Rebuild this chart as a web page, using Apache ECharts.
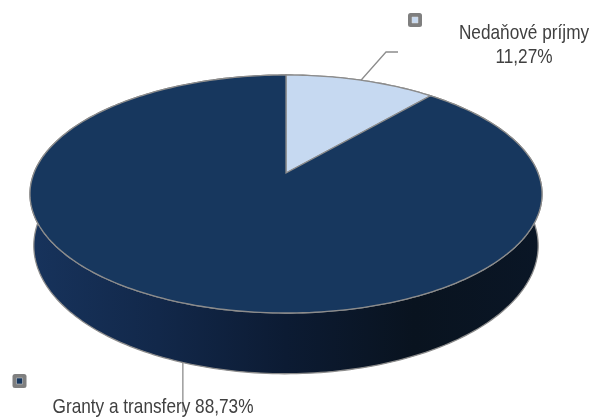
<!DOCTYPE html>
<html>
<head>
<meta charset="utf-8">
<script src="https://cdn.jsdelivr.net/npm/echarts@6/dist/echarts.min.js"></script>
<style>
  html, body { margin: 0; padding: 0; background: #fff; }
  #chart { width: 593px; height: 419px; }
</style>
</head>
<body>
<div id="chart"></div>
<script>
// data
const names = ['Nedaňové príjmy', 'Granty a transfery'];
const values = [11.27, 88.73];

// look of the 3d pie
const topColors = ['#c6d9f1', '#17375e'];
const wallColors = [
  ['#c6d9f1', '#9fb4cf'],
  ['#17335c', '#12284a', '#0c1b33', '#09131f', '#0a1626']
];
const CX = 286, CY = 173;      // projected pie centre
const RX = 252, RY = 115.3;    // radii before perspective
const K = 0.1765;              // perspective strength
const DEPTH = 50;              // height of the side wall
const SHRINK = 0.985;          // bottom edge a bit narrower
const EDGE = '#8c8c8c';
const FONT = "'Liberation Sans', Arial, sans-serif";
const NARROW = 0.82;           // squeeze Arial to look like Arial Narrow

// where Excel put the labels
const labelLayout = [
  { x: 524, y: 45, sep: '\n', keyX: 415, keyY: 20, via: () => [[386, 52], [398, 52]] },
  { x: 153, y: 407, sep: ' ', keyX: 19.5, keyY: 381, via: (a) => [[a[0], 412]] }
];

const total = values.reduce((a, b) => a + b, 0);

function project(theta, bottom) {
  const c = Math.cos(theta), sn = Math.sin(theta);
  const s = 1 / (1 + K * c);
  const sh = bottom ? SHRINK : 1;
  return [CX + RX * sn * s * sh, CY - RY * c * s + (bottom ? DEPTH * s : 0)];
}

function arc(a0, a1, bottom) {
  const pts = [];
  const n = Math.max(4, Math.ceil((a1 - a0) / 0.02));
  for (let i = 0; i <= n; i++) pts.push(project(a0 + (a1 - a0) * i / n, bottom));
  return pts;
}

function angles(idx) {
  let before = 0;
  for (let i = 0; i < idx; i++) before += values[i];
  return [before / total * Math.PI * 2, (before + values[idx]) / total * Math.PI * 2];
}

function gradient(stops) {
  return {
    type: 'linear', x: 0, y: 0, x2: 1, y2: 0,
    colorStops: stops.map((c, i) => ({ offset: i / (stops.length - 1), color: c }))
  };
}

function renderWall(params, api) {
  const [a0, a1] = angles(params.dataIndex);
  const pts = arc(a0, a1, false).concat(arc(a0, a1, true).reverse());
  return {
    type: 'polygon',
    shape: { points: pts },
    style: { fill: gradient(wallColors[params.dataIndex]), stroke: EDGE, lineWidth: 1.3 }
  };
}

function renderTop(params, api) {
  const idx = params.dataIndex;
  const [a0, a1] = angles(idx);
  const pts = [[CX, CY]].concat(arc(a0, a1, false));
  return {
    type: 'polygon',
    shape: { points: pts },
    style: { fill: topColors[idx], stroke: EDGE, lineWidth: 1.3 }
  };
}

function renderLabel(params, api) {
  const idx = params.dataIndex;
  const lay = labelLayout[idx];
  const [a0, a1] = angles(idx);
  const mid = (a0 + a1) / 2;
  // leader starts at the visible rim: front half sits at the wall bottom
  const a = project(mid, Math.cos(mid) < 0);
  const pct = (api.value(0) / total * 100).toFixed(2).replace('.', ',') + '%';
  return {
    type: 'group',
    children: [
      {
        type: 'polyline',
        shape: { points: [a].concat(lay.via(a)) },
        style: { stroke: EDGE, lineWidth: 1.3, fill: null }
      },
      {
        type: 'rect',
        shape: { x: lay.keyX - 7, y: lay.keyY - 7, width: 14, height: 14, r: 2.5 },
        style: { fill: '#7f7f7f' }
      },
      {
        type: 'rect',
        shape: { x: lay.keyX - 3, y: lay.keyY - 3, width: 6, height: 6 },
        style: { fill: topColors[idx], stroke: '#d9d9d9', lineWidth: 0.5 }
      },
      {
        type: 'text',
        x: lay.x, y: lay.y, scaleX: NARROW,
        style: {
          text: names[idx] + lay.sep + pct,
          x: 0, y: 0,
          align: 'center', verticalAlign: 'middle',
          fontFamily: FONT, fontSize: 21, lineHeight: 24,
          fill: '#404040'
        }
      }
    ]
  };
}

const chart = echarts.init(document.getElementById('chart'));
const seriesData = values.map((v, i) => ({ name: names[i], value: [v] }));

chart.setOption({
  animation: false,
  series: [
    { type: 'custom', coordinateSystem: 'none', silent: true, z: 1, data: seriesData, renderItem: renderWall },
    { type: 'custom', coordinateSystem: 'none', silent: true, z: 2, data: seriesData, renderItem: renderTop },
    { type: 'custom', coordinateSystem: 'none', silent: true, z: 3, data: seriesData, renderItem: renderLabel }
  ]
});
</script>
</body>
</html>
